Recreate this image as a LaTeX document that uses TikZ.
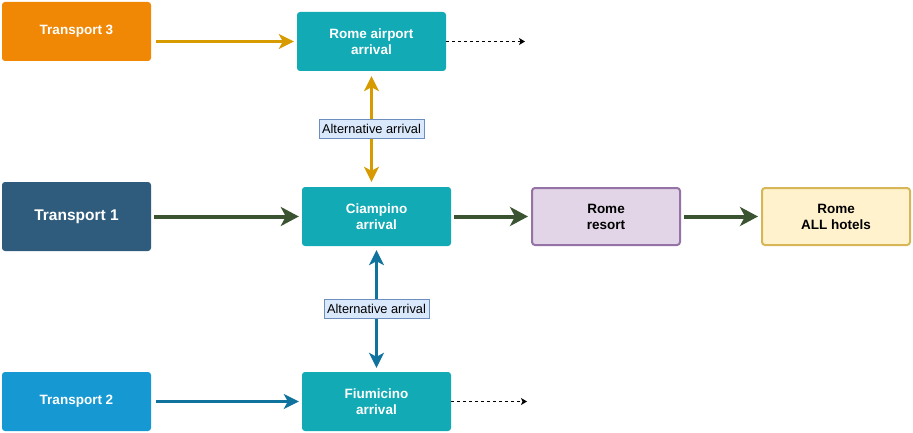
\documentclass[tikz,border=0pt]{standalone}
\usepackage{fontspec}
\setmainfont{Liberation Sans}
\usepackage{tikz}
\usetikzlibrary{arrows.meta}
\definecolor{TransOrange}{HTML}{F08705}
\definecolor{TransDark}{HTML}{2F5B7C}
\definecolor{TransBlue}{HTML}{1699D3}
\definecolor{Arrival}{HTML}{12AAB5}
\definecolor{ResortFill}{HTML}{E1D5E7}
\definecolor{ResortLine}{HTML}{9673A6}
\definecolor{HotelFill}{HTML}{FFF2CC}
\definecolor{HotelLine}{HTML}{D6B656}
\definecolor{GoldLine}{HTML}{D79B00}
\definecolor{GreenLine}{HTML}{3A5431}
\definecolor{BlueLine}{HTML}{10739E}
\definecolor{LabelFill}{HTML}{DAE8FC}
\definecolor{LabelLine}{HTML}{6C8EBF}

\begin{document}
\begin{tikzpicture}
    [x=1pt, y=-1pt,
     every node/.style={align=center, font=\bfseries\fontsize{13.5}{16}\selectfont},
     box/.style={rectangle, rounded corners=3pt, minimum width=149pt,
       minimum height=59pt, inner sep=0pt, text=white},
     alt/.style={draw=LabelLine, fill=LabelFill, text=black, line width=0.8pt,
       inner xsep=3pt, inner ysep=0pt, minimum height=19pt,
       font=\fontsize{12.8}{15}\selectfont},
     thin arrow/.style={-{Stealth[length=15pt, width=15pt, inset=4pt]}, line width=2.5pt},
     both arrow/.style={{Stealth[length=15pt, width=15pt, inset=4pt]}-{Stealth[length=15pt, width=15pt, inset=4pt]}, line width=2.5pt},
     thick arrow/.style={-{Stealth[length=18pt, width=19pt, inset=5pt]}, line width=4pt, GreenLine},
     dotted arrow/.style={-{Stealth[length=6pt, width=7pt, inset=1.5pt]}, dashed, black, line width=0.8pt}]
    \useasboundingbox (0, 0) rectangle (913, 433);

    \node (0) [box, fill=TransOrange] at (76.5, 31.5) {Transport 3};
    \node (1) [box, fill=Arrival] at (371.5, 41.5) {Rome airport\\arrival};

    \node (2) [box, fill=TransDark, minimum height=69pt,
      font=\bfseries\fontsize{15.5}{18}\selectfont] at (76.5, 216.5) {Transport 1};
    \node (3) [box, fill=Arrival] at (376.5, 216.5) {Ciampino\\arrival};
    \node (4) [box, fill=ResortFill, draw=ResortLine, line width=2pt, text=black,
      minimum width=148pt, minimum height=57pt] at (606, 216.5) {Rome\\resort};
    \node (5) [box, fill=HotelFill, draw=HotelLine, line width=2pt, text=black,
      minimum width=148pt, minimum height=57pt] at (836, 216.5) {Rome\\ALL hotels};

    \node (6) [box, fill=TransBlue] at (76.5, 401.5) {Transport 2};
    \node (7) [box, fill=Arrival] at (376.5, 401.5) {Fiumicino\\arrival};

    \coordinate (end1) at (525, 41.5);
    \coordinate (end7) at (527, 401.5);

    \draw [thin arrow, GoldLine, shorten <=5pt, shorten >=3pt] (0.east |- 1) -- (1);
    \draw [thin arrow, BlueLine, shorten <=5pt, shorten >=3pt] (6) -- (7);
    \draw [thick arrow, shorten <=3pt, shorten >=3pt] (2) -- (3);
    \draw [thick arrow, shorten <=3pt, shorten >=3pt] (3) -- (4);
    \draw [thick arrow, shorten <=3pt, shorten >=3pt] (4) -- (5);

    \draw [dotted arrow] (1) -- (end1);
    \draw [dotted arrow] (7) -- (end7);

    \draw [both arrow, GoldLine, shorten <=5pt, shorten >=5pt] (1) -- (1 |- 3.north)
      node [midway, alt] {Alternative arrival};
    \draw [both arrow, BlueLine, shorten <=4pt, shorten >=4pt] (3) -- (7)
      node [midway, alt] {Alternative arrival};
\end{tikzpicture}
\end{document}
